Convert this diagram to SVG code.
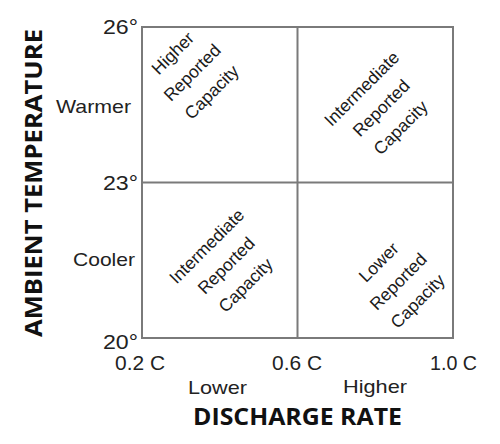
<svg xmlns="http://www.w3.org/2000/svg" width="500" height="444" viewBox="0 0 500 444">
<style>
.grid{fill:none;stroke:#7a7a7a;stroke-width:2}
.tick{font-family:"Liberation Sans",Arial,sans-serif;font-size:20px;fill:#222}
.side{font-family:"Liberation Sans",Arial,sans-serif;font-size:19px;fill:#222}
.q{font-family:"Liberation Sans",Arial,sans-serif;font-size:17.5px;fill:#1a1a1a;text-anchor:middle}
.axis{font-family:"Open Sans","Liberation Sans",sans-serif;font-weight:700;font-size:23px;fill:#111;text-anchor:middle}
</style>
<rect width="500" height="444" fill="#fff"/>
<g id="connectors">
<rect class="grid" x="142" y="27" width="311" height="311"/>
<line class="grid" x1="297.5" y1="27" x2="297.5" y2="338"/>
<line class="grid" x1="142" y1="182.5" x2="453" y2="182.5"/>
</g>
<g id="y-ticks">
<text class="tick" x="138" y="34" text-anchor="end" textLength="35" lengthAdjust="spacingAndGlyphs">26°</text>
<text class="tick" x="138" y="190" text-anchor="end" textLength="35" lengthAdjust="spacingAndGlyphs">23°</text>
<text class="tick" x="138" y="349" text-anchor="end" textLength="35" lengthAdjust="spacingAndGlyphs">20°</text>
<text class="side" x="131" y="113" text-anchor="end" textLength="75" lengthAdjust="spacingAndGlyphs">Warmer</text>
<text class="side" x="135" y="266" text-anchor="end" textLength="62" lengthAdjust="spacingAndGlyphs">Cooler</text>
</g>
<g id="x-ticks">
<text class="tick" x="115" y="370" textLength="50" lengthAdjust="spacingAndGlyphs">0.2 C</text>
<text class="tick" x="272" y="370" textLength="50" lengthAdjust="spacingAndGlyphs">0.6 C</text>
<text class="tick" x="430" y="370" textLength="47" lengthAdjust="spacingAndGlyphs">1.0 C</text>
<text class="side" x="188" y="394" textLength="59" lengthAdjust="spacingAndGlyphs">Lower</text>
<text class="side" x="343" y="393" textLength="64" lengthAdjust="spacingAndGlyphs">Higher</text>
</g>
<g id="q-top-left" transform="translate(192.5,73) rotate(-45)">
<text class="q" x="0" y="-22">Higher</text>
<text class="q" x="0" y="5.5">Reported</text>
<text class="q" x="0" y="33">Capacity</text>
</g>
<g id="q-top-right" transform="translate(381.5,108.5) rotate(-45)">
<text class="q" x="0" y="-22">Intermediate</text>
<text class="q" x="0" y="5.5">Reported</text>
<text class="q" x="0" y="33">Capacity</text>
</g>
<g id="q-bottom-left" transform="translate(226.5,266) rotate(-45)">
<text class="q" x="0" y="-22">Intermediate</text>
<text class="q" x="0" y="5.5">Reported</text>
<text class="q" x="0" y="33">Capacity</text>
</g>
<g id="q-bottom-right" transform="translate(398.5,282) rotate(-45)">
<text class="q" x="0" y="-22">Lower</text>
<text class="q" x="0" y="5.5">Reported</text>
<text class="q" x="0" y="33">Capacity</text>
</g>
<g id="axis-titles">
<text class="axis" x="297.5" y="425" textLength="209" lengthAdjust="spacingAndGlyphs">DISCHARGE RATE</text>
<text class="axis" transform="translate(42,183) rotate(-90)" x="0" y="0" textLength="308" lengthAdjust="spacingAndGlyphs">AMBIENT TEMPERATURE</text>
</g>
</svg>
